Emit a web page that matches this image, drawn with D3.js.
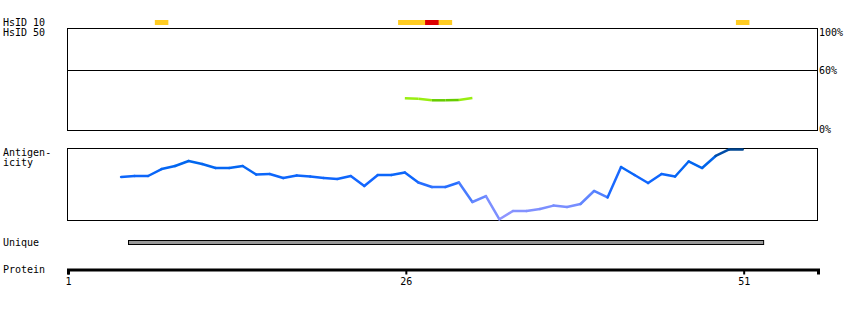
<!DOCTYPE html>
<html><head><meta charset="utf-8">
<script src="https://cdn.jsdelivr.net/npm/d3@7"></script>
<style>
body{margin:0;background:#fff;}
text{font-family:"DejaVu Sans Mono",monospace;font-size:10px;fill:#000;}
</style></head>
<body><svg id="c" width="850" height="310"></svg>
<script>
// ---- data ----
const proteinLength = 56;
const axisTicks = [1, 26, 51];
const pctTicks = [100, 60, 0];
const pctLabels = ["100%", "60%", "0%"];
// HsID 10 hits: [start, end, level]
const hsid10Start = [8, 26, 28, 51];
const hsid10End   = [8, 29, 28, 51];
const hsid10Level = ["mid", "mid", "high", "mid"];
// HsID 50 identity (%)
const identityRes = [26, 27, 28, 29, 30, 31];
const identityVal = [31.7, 31.2, 29.7, 29.7, 30.0, 32.0];
// Antigenicity (normalized score)
const antigenRes = [5,6,7,8,9,10,11,12,13,14,15,16,17,18,19,20,21,22,23,24,25,26,27,28,29,30,31,32,33,34,35,36,37,38,39,40,41,42,43,44,45,46,47,48,49,50,51];
const antigenVal = [0.597,0.611,0.611,0.708,0.75,0.819,0.778,0.722,0.722,0.75,0.632,0.639,0.583,0.618,0.604,0.583,0.569,0.611,0.472,0.625,0.625,0.66,0.521,0.458,0.458,0.521,0.25,0.333,0.01,0.125,0.125,0.153,0.2,0.18,0.222,0.403,0.313,0.736,0.625,0.514,0.639,0.604,0.813,0.722,0.889,0.98,0.98];
// Unique region
const uniqueStart = 6, uniqueEnd = 52;

// ---- drawing ----
const svg = d3.select("#c");
const x = d3.scaleLinear().domain([1, proteinLength + 0.5]).range([67, 817]);
const yPct = d3.scaleLinear().domain([0, 100]).range([130, 30]);
const yAg = d3.scaleLinear().domain([0, 1]).range([220, 148]);

// left labels
const labels = [["HsID 10", 26], ["HsID 50", 36], ["Antigen-", 156], ["icity", 166], ["Unique", 246], ["Protein", 273]];
svg.selectAll("text.lab").data(labels).enter().append("text").attr("class","lab")
  .attr("x", 3).attr("y", d => d[1]).text(d => d[0]);

// HsID 10 bars
const hcol = {mid: "#ffcc22", high: "#dd0000"};
svg.selectAll("rect.h10").data(hsid10Start.map((s,i)=>({s, e: hsid10End[i], l: hsid10Level[i]})))
  .enter().append("rect").attr("class","h10")
  .attr("x", d => x(d.s - 0.5)).attr("width", d => x(d.e + 0.5) - x(d.s - 0.5))
  .attr("y", 20).attr("height", 5).attr("fill", d => hcol[d.l]);

// HsID 50 box
svg.append("rect").attr("x", 67.5).attr("y", 28.5).attr("width", 750).attr("height", 102)
  .attr("fill", "none").attr("stroke", "#000").attr("stroke-width", 1);
svg.append("line").attr("x1", 67).attr("x2", 818).attr("y1", 70.5).attr("y2", 70.5)
  .attr("stroke", "#000").attr("stroke-width", 1);
const pctY = [36, 74, 133];
svg.selectAll("text.pct").data(pctLabels).enter().append("text").attr("class","pct")
  .attr("x", 819).attr("y", (d,i) => pctY[i]).text(d => d);

// identity line segments
const idLine = d3.line().x(d => x(d[0])).y(d => yPct(d[1]));
for (let i = 0; i < identityRes.length - 1; i++) {
  const seg = [[identityRes[i], identityVal[i]], [identityRes[i+1], identityVal[i+1]]];
  const m = (identityVal[i] + identityVal[i+1]) / 2;
  svg.append("path").attr("d", idLine(seg)).attr("fill","none")
    .attr("stroke", m < 30.2 ? "#66cc00" : "#99ee11").attr("stroke-width", 2.5);
}

// Antigenicity box
svg.append("rect").attr("x", 67.5).attr("y", 148.5).attr("width", 750).attr("height", 72)
  .attr("fill", "none").attr("stroke", "#000").attr("stroke-width", 1);
const agColor = d3.scaleLinear().domain([0, 0.3, 0.55, 0.8, 0.9, 1])
  .range(["#9999ff", "#6688ff", "#1166ff", "#0066ee", "#0052b8", "#00448a"]);
const agLine = d3.line().x(d => x(d[0])).y(d => yAg(d[1]));
for (let i = 0; i < antigenRes.length - 1; i++) {
  const seg = [[antigenRes[i], antigenVal[i]], [antigenRes[i+1], antigenVal[i+1]]];
  const m = (antigenVal[i] + antigenVal[i+1]) / 2;
  svg.append("path").attr("d", agLine(seg)).attr("fill","none")
    .attr("stroke", agColor(m)).attr("stroke-width", 2.5).attr("stroke-linecap","round");
}

// Unique bar
svg.append("rect").attr("x", Math.round(x(uniqueStart - 0.5)) + 0.5).attr("y", 240.5)
  .attr("width", x(uniqueEnd + 0.5) - x(uniqueStart - 0.5)).attr("height", 4)
  .attr("fill", "#999999").attr("stroke", "#000").attr("stroke-width", 1);

// Protein axis
const ax = d3.axisBottom(x).tickValues(axisTicks).tickSize(5).tickSizeOuter(5).tickFormat(d3.format("d"));
const g = svg.append("g").attr("transform", "translate(1,269.5)").call(ax);
g.select(".domain").attr("stroke", "#000").attr("stroke-width", 3);
g.selectAll(".tick line").attr("stroke", "#000").attr("stroke-width", 2);
g.selectAll(".tick text").attr("y", 15).attr("dy", 0)
  .style("font-family", '"DejaVu Sans Mono",monospace').style("font-size", "10px").attr("fill", "#000");
g.attr("font-family", null).attr("font-size", null);
</script></body></html>
